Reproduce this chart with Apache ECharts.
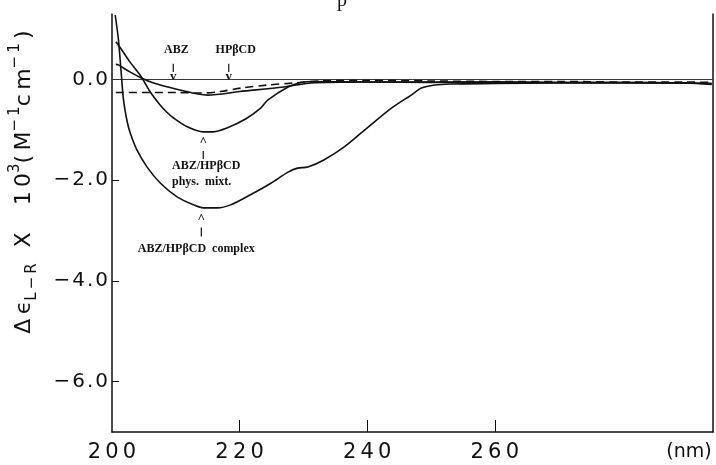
<!DOCTYPE html>
<html>
<head>
<meta charset="utf-8">
<script src="https://cdn.jsdelivr.net/npm/echarts@6/dist/echarts.min.js"></script>
<style>
  html, body { margin: 0; padding: 0; background: #fff; }
  #chart { width: 716px; height: 465px; }
</style>
</head>
<body>
<div id="chart"></div>
<script>
// CD spectra, wavelength in nm, delta epsilon x 10^3
const complexNm = [200.5, 201.0, 201.4, 201.8, 202.4, 202.9, 203.9, 205.5, 207.6, 210.2, 212.8, 214.3, 216.5, 218.6, 221.7, 224.9, 227.6, 229.1, 230.7, 233.2, 236.4, 240.2, 243.8, 246.9, 248.5, 250.6, 253, 260, 270, 280, 290, 294]
const complexVal = [1.28, 0.8, 0.2, -0.4, -0.85, -1.08, -1.4, -1.74, -2.06, -2.33, -2.49, -2.55, -2.55, -2.49, -2.29, -2.06, -1.84, -1.76, -1.74, -1.6, -1.34, -0.94, -0.57, -0.31, -0.17, -0.11, -0.09, -0.08, -0.07, -0.07, -0.07, -0.08]

const physNm = [200.6, 201.3, 202.8, 204.6, 206.0, 207.5, 208.6, 209.6, 211.8, 214.3, 215.9, 218.1, 221.0, 223.3, 224.4, 227.6, 229.6, 231.5, 240, 250, 260, 270, 280, 290, 294]
const physVal = [0.75, 0.63, 0.35, 0.05, -0.25, -0.5, -0.65, -0.76, -0.94, -1.04, -1.04, -0.96, -0.78, -0.57, -0.41, -0.15, -0.06, -0.04, -0.05, -0.06, -0.05, -0.06, -0.06, -0.07, -0.08]

const abzNm = [200.6, 201.0, 202.8, 204.6, 206.5, 208.8, 211, 213.5, 215.0, 220, 226.9, 231.2, 240, 250, 260, 270, 280, 290, 294]
const abzVal = [0.3, 0.29, 0.15, 0.03, -0.07, -0.15, -0.22, -0.29, -0.31, -0.24, -0.15, -0.07, -0.05, -0.05, -0.05, -0.06, -0.06, -0.07, -0.1]

const hpcdNm = [200.6, 205, 210, 214, 217, 220.2, 224.4, 228.5, 232.8, 240, 250, 260, 270, 280, 290, 294]
const hpcdVal = [-0.26, -0.26, -0.26, -0.27, -0.24, -0.17, -0.11, -0.07, -0.03, -0.02, -0.03, -0.04, -0.04, -0.05, -0.05, -0.06]

const xTicks = [220, 240, 260]
const xLabels = [200, 220, 240, 260]
const yTicks = [-6, -4, -2, 0]

// annotation anchors in data coords: [nm, value]
const notes = [
  { text: 'ABZ', at: [210.1, 0.59], align: 'center' },
  { text: 'HPβCD', at: [219.4, 0.59], align: 'center' },
  { text: 'ABZ/HPβCD', at: [209.4, -1.72], align: 'left' },
  { text: 'phys.  mixt.', at: [209.4, -2.03], align: 'left' },
  { text: 'ABZ/HPβCD  complex', at: [213.2, -3.37], align: 'center' }
]
const arrows = [
  { nm: 209.6, from: 0.31, to: 0.15, head: 'v', headAt: 0.05 },
  { nm: 218.3, from: 0.31, to: 0.15, head: 'v', headAt: 0.05 },
  { nm: 214.3, from: -1.42, to: -1.58, head: '^', headAt: -1.24 },
  { nm: 214.0, from: -2.94, to: -3.12, head: '^', headAt: -2.77 }
]

const zip = (xs, ys) => xs.map((x, i) => [x, ys[i]])
const spaced = (s, gap) => String(s).split('').join(gap || '\u2009')

const curve = (name, data, type) => ({
  name: name,
  type: 'line',
  data: data,
  smooth: 0.3,
  showSymbol: false,
  lineStyle: { color: '#111', width: 1.6, type: type || 'solid' }
})

const chart = echarts.init(document.getElementById('chart'))

chart.setOption({
  animation: false,
  grid: { left: 112, right: 3, top: 14, bottom: 33 },
  xAxis: {
    type: 'value',
    min: 200,
    max: 294.2,
    axisLine: { onZero: false, lineStyle: { color: '#111', width: 1.5 } },
    splitLine: { show: false },
    axisTick: { inside: true, length: 12, customValues: xTicks, lineStyle: { color: '#111' } },
    axisLabel: {
      customValues: xLabels,
      margin: 10,
      color: '#111',
      fontFamily: 'DejaVu Sans',
      fontSize: 21,
      formatter: v => spaced(v)
    }
  },
  yAxis: [{
    type: 'value',
    min: -7,
    max: 1.3,
    axisLine: { show: true, lineStyle: { color: '#111', width: 1.5 } },
    splitLine: { show: false },
    axisTick: { inside: true, length: 7, customValues: yTicks, lineStyle: { color: '#111' } },
    axisLabel: {
      customValues: yTicks,
      margin: 4,
      color: '#111',
      fontFamily: 'DejaVu Sans',
      fontSize: 20,
      formatter: v => spaced((v < 0 ? '−' : '') + Math.abs(v).toFixed(1), '\u200a')
    }
  }, {
    type: 'value',
    position: 'right',
    min: -7,
    max: 1.3,
    axisLine: { show: true, lineStyle: { color: '#111', width: 1.5 } },
    axisTick: { show: false },
    axisLabel: { show: false },
    splitLine: { show: false }
  }],
  series: [
    {
      name: 'baseline',
      type: 'line',
      data: [[200, 0], [294.2, 0]],
      showSymbol: false,
      lineStyle: { color: '#333', width: 1 }
    },
    curve('ABZ/HPβCD complex', zip(complexNm, complexVal)),
    curve('ABZ/HPβCD phys. mixt.', zip(physNm, physVal)),
    curve('ABZ', zip(abzNm, abzVal)),
    curve('HPβCD', zip(hpcdNm, hpcdVal), [8, 5])
  ]
})

// labels and arrows placed from data coordinates
const px = p => chart.convertToPixel({ gridIndex: 0 }, p)
const serif = { fontFamily: 'Liberation Serif', fontWeight: 'bold', fontSize: 12, fill: '#111' }
const gfx = []
notes.forEach(n => {
  const p = px(n.at)
  gfx.push({ type: 'text', x: p[0], y: p[1], style: Object.assign({ text: n.text, align: n.align, verticalAlign: 'middle' }, serif) })
})
arrows.forEach(a => {
  const p1 = px([a.nm, a.from])
  const p2 = px([a.nm, a.to])
  const h = px([a.nm, a.headAt])
  gfx.push({ type: 'line', shape: { x1: p1[0], y1: p1[1], x2: p2[0], y2: p2[1] }, style: { stroke: '#111', lineWidth: 1.2 } })
  gfx.push({ type: 'text', x: h[0], y: h[1], style: Object.assign({}, serif, { text: a.head, align: 'center', verticalAlign: 'middle', fontSize: 13 }) })
})

// rotated y axis title with sub/superscripts
const yTitle = '{t|' + spaced('Δϵ') + '}{sub|' + spaced('L−R') + '}{t|\u2009' + spaced(' X  10') + '}{sup|3}{t|' + spaced('(M') + '}{sup|' + spaced('−1') + '}{t|' + spaced('cm') + '}{sup|' + spaced('−1') + '}{t|\u2009)}'
gfx.push({
  type: 'text',
  x: 24,
  y: 182,
  rotation: Math.PI / 2,
  style: {
    text: yTitle,
    align: 'center',
    verticalAlign: 'middle',
    fill: '#111',
    rich: {
      t: { fontFamily: 'DejaVu Sans', fontSize: 22, fill: '#111', lineHeight: 32 },
      sub: { fontFamily: 'DejaVu Sans', fontSize: 15, fill: '#111', lineHeight: 17, verticalAlign: 'bottom' },
      sup: { fontFamily: 'DejaVu Sans', fontSize: 15, fill: '#111', lineHeight: 17, verticalAlign: 'top' }
    }
  }
})
gfx.push({ type: 'text', x: 689, y: 452, style: { text: '(nm)', align: 'center', verticalAlign: 'middle', fontFamily: 'DejaVu Sans', fontSize: 19, fill: '#111' } })
gfx.push({ type: 'text', x: 342, y: -9, style: { text: 'p', align: 'center', verticalAlign: 'top', fontFamily: 'Liberation Serif', fontSize: 20, fill: '#111' } })
chart.setOption({ graphic: gfx })
</script>
</body>
</html>
